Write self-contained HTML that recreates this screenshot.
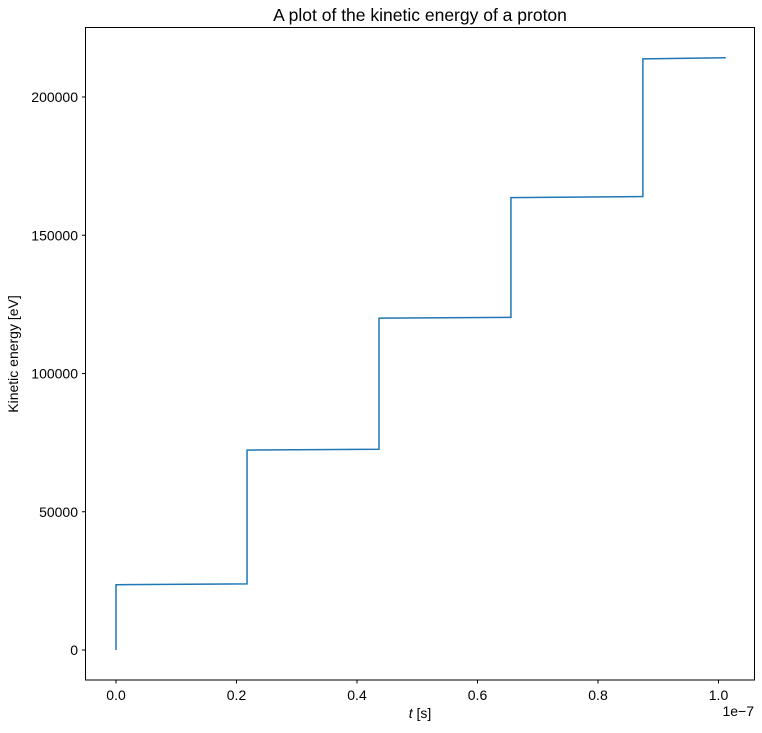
<!DOCTYPE html>
<html><head><meta charset="utf-8">
<style>
body{margin:0;background:#fff;}
svg text{font-family:"Liberation Sans","DejaVu Sans",sans-serif;fill:#000;}
</style></head>
<body>
<svg id="chart" width="762" height="728">
<rect width="762" height="728" fill="#fff"/>
<g id="ticks"></g>
<path id="line" fill="none" stroke="#1f77b4" stroke-width="1.5"/>
<rect x="85.5" y="27.5" width="669" height="652.5" fill="none" stroke="#000" stroke-width="1"/>
<text x="420" y="21" font-size="17.5" text-anchor="middle">A plot of the kinetic energy of a proton</text>
<text x="420" y="718" font-size="14" text-anchor="middle"><tspan font-style="italic">t</tspan> [s]</text>
<text transform="translate(18,354) rotate(-90)" font-size="14" text-anchor="middle">Kinetic energy [eV]</text>
<text x="754" y="716" font-size="14" text-anchor="end">1e−7</text>
</svg>
<script>
const times = [0, 0, 0.2175, 0.2175, 0.4365, 0.4365, 0.6555, 0.6555, 0.8745, 0.8745, 1.012];
const energies = [0, 23600, 23900, 72300, 72600, 120000, 120300, 163600, 164000, 213800, 214200];
const xTicks = [0.0, 0.2, 0.4, 0.6, 0.8, 1.0];
const xTickLabels = ["0.0", "0.2", "0.4", "0.6", "0.8", "1.0"];
const yTicks = [0, 50000, 100000, 150000, 200000];
const yTickLabels = ["0", "50000", "100000", "150000", "200000"];

const xs = v => 116 + v * 602.5;
const ys = v => 650 - v * 553 / 200000;
const NS = "http://www.w3.org/2000/svg";
const g = document.getElementById('ticks');

xTicks.forEach((t, i) => {
  const l = document.createElementNS(NS, 'line');
  l.setAttribute('x1', xs(t)); l.setAttribute('x2', xs(t));
  l.setAttribute('y1', 680); l.setAttribute('y2', 683.5);
  l.setAttribute('stroke', '#000');
  
  
  g.appendChild(l);
  const tx = document.createElementNS(NS, 'text');
  tx.setAttribute('x', xs(t)); tx.setAttribute('y', 700);
  tx.setAttribute('font-size', '14'); tx.setAttribute('text-anchor', 'middle');
  tx.textContent = xTickLabels[i];
  
  
  g.appendChild(tx);
});
yTicks.forEach((t, i) => {
  const l = document.createElementNS(NS, 'line');
  l.setAttribute('x1', 82); l.setAttribute('x2', 85.5);
  l.setAttribute('y1', ys(t)); l.setAttribute('y2', ys(t));
  l.setAttribute('stroke', '#000');
  
  
  g.appendChild(l);
  const tx = document.createElementNS(NS, 'text');
  tx.setAttribute('x', 78); tx.setAttribute('y', ys(t) + 5);
  tx.setAttribute('font-size', '14'); tx.setAttribute('text-anchor', 'end');
  tx.textContent = yTickLabels[i];
  
  
  g.appendChild(tx);
});
document.getElementById('line').setAttribute('d',
  times.map((t, i) => (i ? 'L' : 'M') + xs(t).toFixed(2) + ',' + ys(energies[i]).toFixed(2)).join(' '));
</script>
</body></html>
